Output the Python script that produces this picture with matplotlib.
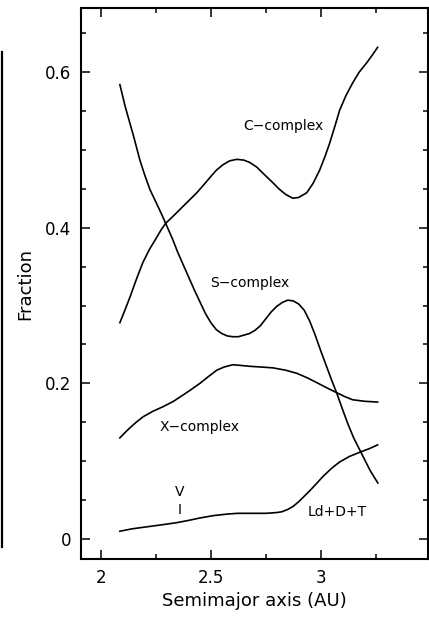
import matplotlib.pyplot as plt
from matplotlib.lines import Line2D
from matplotlib.ticker import MultipleLocator

# values: semimajor axis (AU) and fraction
s_a = [2.086, 2.11, 2.13, 2.15, 2.177, 2.20, 2.223, 2.25, 2.275, 2.30, 2.325, 2.35,
       2.375, 2.40, 2.425, 2.45, 2.475, 2.50, 2.525, 2.55, 2.575, 2.60, 2.625, 2.65,
       2.675, 2.70, 2.725, 2.75, 2.775, 2.80, 2.825, 2.85, 2.875, 2.90, 2.925, 2.95,
       2.975, 3.00, 3.025, 3.05, 3.075, 3.10, 3.125, 3.15, 3.175, 3.20, 3.225, 3.26]
s_frac = [0.584, 0.556, 0.536, 0.516, 0.487, 0.467, 0.449, 0.433, 0.418, 0.402, 0.386,
          0.368, 0.352, 0.336, 0.320, 0.305, 0.290, 0.278, 0.269, 0.264, 0.261, 0.260,
          0.260, 0.262, 0.264, 0.268, 0.274, 0.283, 0.292, 0.299, 0.304, 0.307, 0.306,
          0.302, 0.294, 0.280, 0.262, 0.242, 0.223, 0.204, 0.186, 0.166, 0.147, 0.130,
          0.116, 0.102, 0.088, 0.072]

c_a = [2.086, 2.11, 2.132, 2.16, 2.19, 2.22, 2.25, 2.275, 2.295, 2.325, 2.35, 2.375,
       2.40, 2.436, 2.47, 2.50, 2.525, 2.555, 2.585, 2.618, 2.65, 2.677, 2.709, 2.745,
       2.782, 2.81, 2.84, 2.873, 2.90, 2.936, 2.965, 2.995, 3.02, 3.041, 3.065, 3.086,
       3.115, 3.145, 3.175, 3.209, 3.235, 3.259]
c_frac = [0.278, 0.295, 0.311, 0.333, 0.355, 0.372, 0.386, 0.398, 0.406, 0.414, 0.421,
          0.428, 0.435, 0.445, 0.456, 0.466, 0.474, 0.481, 0.486, 0.488, 0.487, 0.484,
          0.478, 0.468, 0.458, 0.450, 0.443, 0.438, 0.439, 0.445, 0.457, 0.474, 0.492,
          0.509, 0.531, 0.551, 0.570, 0.586, 0.600, 0.612, 0.622, 0.632]

x_a = [2.086, 2.11, 2.132, 2.16, 2.191, 2.235, 2.282, 2.33, 2.373, 2.41, 2.45, 2.49,
       2.527, 2.56, 2.60, 2.64, 2.677, 2.73, 2.782, 2.84, 2.891, 2.94, 2.982, 3.03,
       3.073, 3.11, 3.145, 3.20, 3.259]
x_frac = [0.130, 0.137, 0.143, 0.150, 0.157, 0.164, 0.170, 0.177, 0.185, 0.192, 0.200,
          0.209, 0.217, 0.221, 0.224, 0.223, 0.222, 0.221, 0.220, 0.217, 0.213, 0.207,
          0.201, 0.194, 0.188, 0.183, 0.179, 0.177, 0.176]

ld_a = [2.086, 2.14, 2.191, 2.27, 2.345, 2.40, 2.45, 2.51, 2.573, 2.62, 2.677, 2.75,
        2.80, 2.823, 2.85, 2.875, 2.90, 2.918, 2.95, 2.98, 3.009, 3.05, 3.086, 3.13,
        3.182, 3.22, 3.259]
ld_frac = [0.010, 0.013, 0.015, 0.018, 0.021, 0.024, 0.027, 0.030, 0.032, 0.033, 0.033,
           0.033, 0.034, 0.035, 0.038, 0.042, 0.048, 0.053, 0.062, 0.071, 0.080, 0.091,
           0.099, 0.106, 0.112, 0.116, 0.121]

fig = plt.figure(figsize=(4.29, 6.17), dpi=100)
ax = fig.add_axes([81 / 429, 1 - 559 / 617, 346.5 / 429, 551 / 617])

for xs, ys in [(s_a, s_frac), (c_a, c_frac), (x_a, x_frac), (ld_a, ld_frac)]:
    ax.plot(xs, ys, color='black', linewidth=1.2)

ax.text(2.832, 0.531, 'C\u2212complex', fontsize=10, ha='center', va='center')
ax.text(2.677, 0.329, 'S\u2212complex', fontsize=10, ha='center', va='center')
ax.text(2.45, 0.144, 'X\u2212complex', fontsize=10, ha='center', va='center')
ax.text(2.36, 0.061, 'V', fontsize=10, ha='center', va='center')
ax.text(2.36, 0.037, 'I', fontsize=10, ha='center', va='center')
ax.text(3.073, 0.035, 'Ld+D+T', fontsize=10, ha='center', va='center')

ax.set_xlim(1.909, 3.486)
ax.set_ylim(-0.0257, 0.6825)
ax.xaxis.set_minor_locator(MultipleLocator(0.25))
ax.yaxis.set_minor_locator(MultipleLocator(0.05))
ax.set_xticks([2, 2.5, 3])
ax.set_xticklabels(['2', '2.5', '3'])
ax.set_yticks([0, 0.2, 0.4, 0.6])
ax.set_yticklabels(['0', '0.2', '0.4', '0.6'])
ax.tick_params(which='both', direction='in', top=True, right=True, width=1.1)
ax.tick_params(which='major', length=6.5, labelsize=12, pad=7)
ax.tick_params(which='minor', length=3.5)
for sp in ax.spines.values():
    sp.set_linewidth(1.5)

ax.set_xlabel('Semimajor axis (AU)', fontsize=13, labelpad=4)
ax.set_ylabel('Fraction', fontsize=13, labelpad=8)

# edge of the neighbouring panel
fig.add_artist(Line2D([2 / 429, 2 / 429], [1 - 52 / 617, 1 - 547 / 617],
                      color='black', linewidth=1.6, transform=fig.transFigure))

fig.savefig('out.png', dpi=100)
